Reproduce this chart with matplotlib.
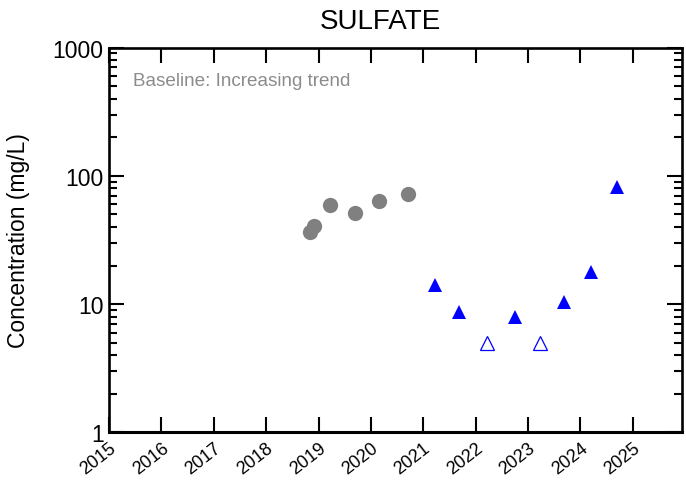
import matplotlib
matplotlib.use("Agg")
import matplotlib.pyplot as plt
from matplotlib.ticker import LogLocator, FixedLocator, NullFormatter

plt.rcParams["font.family"] = ["Liberation Sans", "DejaVu Sans"]

# Baseline samples (decimal year, mg/L)
baseline_years = [2018.84, 2018.92, 2019.22, 2019.69, 2020.15, 2020.71]
baseline_vals = [36.7, 40.9, 59.3, 51.4, 63.1, 72.8]

# Later samples: detected values
detect_years = [2021.22, 2021.68, 2022.75, 2023.68, 2024.20, 2024.71]
detect_vals = [14.1, 8.7, 7.9, 10.4, 17.8, 81.5]

# Later samples: non-detects (reporting limit)
nondetect_years = [2022.21, 2023.23]
nondetect_vals = [5, 5]

year_ticks = list(range(2015, 2026))
y_ticks = [1, 10, 100, 1000]
y_tick_labels = ["1", "10", "100", "1000"]

fig = plt.figure(figsize=(6.86, 4.85), dpi=100)
ax = fig.add_axes([0.159, 0.1062, 0.835, 0.7938])

ax.plot(baseline_years, baseline_vals, linestyle="none", marker="o",
        markersize=11, color="#808080", markeredgewidth=0)
ax.plot(detect_years, detect_vals, linestyle="none", marker="^",
        markersize=10.6, color="#0000ff", markeredgewidth=0)
ax.plot(nondetect_years, nondetect_vals, linestyle="none", marker="^",
        markersize=10.2, markerfacecolor="white", markeredgecolor="#0000ff",
        markeredgewidth=0.9)

ax.set_yscale("log")
ax.set_ylim(1, 1000)
ax.set_xlim(2015, 2025.94)

ax.yaxis.set_major_locator(FixedLocator(y_ticks))
ax.set_yticklabels(y_tick_labels)
ax.yaxis.set_minor_locator(LogLocator(base=10, subs=range(2, 10)))
ax.yaxis.set_minor_formatter(NullFormatter())

ax.set_xticks(year_ticks)
ax.set_xticklabels([str(y) for y in year_ticks], rotation=38, ha="right",
                   rotation_mode="anchor", fontsize=13)

ax.tick_params(axis="both", which="major", direction="in", length=11,
               width=1.5, top=True, right=True)
ax.tick_params(axis="y", which="major", labelsize=16.5, pad=4)
ax.tick_params(axis="x", which="major", pad=5)
ax.tick_params(axis="y", which="minor", direction="in", length=5.5,
               width=1.5, right=True, left=True)
ax.tick_params(axis="x", which="minor", bottom=False, top=False)

for side in ["left", "right", "top", "bottom"]:
    ax.spines[side].set_linewidth(1.9)
ax.spines["bottom"].set_linewidth(2.2)

ax.set_ylabel("Concentration (mg/L)", fontsize=16.5, labelpad=16)

ax.text(0.042, 0.915, "Baseline: Increasing trend", transform=ax.transAxes,
        fontsize=13.6, color="#8c8c8c", va="center", ha="left")

fig.text(0.554, 0.955, "SULFATE", fontsize=20, ha="center", va="center")

fig.savefig("out.png", dpi=100)
